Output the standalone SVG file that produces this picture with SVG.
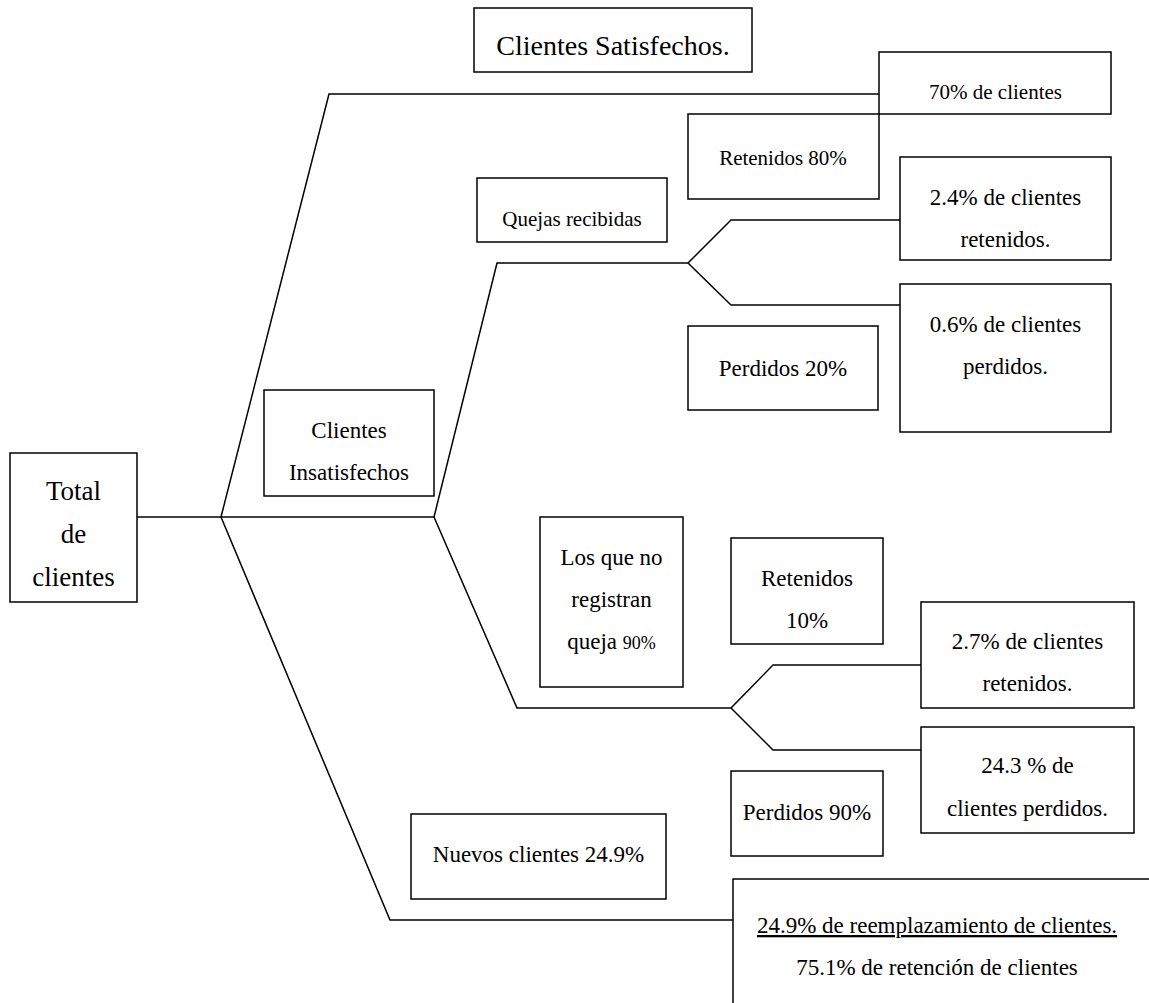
<svg xmlns="http://www.w3.org/2000/svg" width="1149" height="1003" viewBox="0 0 1149 1003">
  <style>
    .box { fill: #ffffff; stroke: #000000; stroke-width: 1.5; }
    .open { fill: none; stroke: #000000; stroke-width: 1.5; }
    .link { fill: none; stroke: #000000; stroke-width: 1.5; stroke-linejoin: miter; }
    text { font-family: "Liberation Serif", "Times New Roman", serif; fill: #000000; text-anchor: middle; }
    .s18 { font-size: 18px; }
    .s21 { font-size: 21px; }
    .s23 { font-size: 23px; }
    .s27 { font-size: 27px; }
    .s28 { font-size: 28px; }
  </style>
  <rect width="1149" height="1003" fill="#ffffff"/>

  <!-- connectors -->
  <g id="connectors">
    <path class="link" d="M137,517 H434"/>
    <path class="link" d="M221,517 L329,94 H879"/>
    <path class="link" d="M221,517 L390,920 H733"/>
    <path class="link" d="M434,517 L497,263 H688 L731,220 H900"/>
    <path class="link" d="M688,263 L731,305 H900"/>
    <path class="link" d="M434,517 L517,708 H731 L773,665 H921"/>
    <path class="link" d="M731,708 L773,750 H921"/>
  </g>

  <g id="total">
    <rect class="box" x="10" y="453" width="127" height="149"/>
    <text class="s27" x="73.5" y="500">Total</text>
    <text class="s27" x="73.5" y="543">de</text>
    <text class="s27" x="73.5" y="586">clientes</text>
  </g>

  <g id="satisfechos">
    <rect class="box" x="474" y="8" width="278" height="64"/>
    <text class="s28" x="613" y="55">Clientes Satisfechos.</text>
  </g>

  <g id="setenta">
    <rect class="box" x="879" y="52" width="232" height="62"/>
    <text class="s21" x="995.5" y="99">70% de clientes</text>
  </g>

  <g id="retenidos80">
    <rect class="box" x="688" y="114" width="191" height="85"/>
    <text class="s21" x="783" y="165">Retenidos 80%</text>
  </g>

  <g id="quejas">
    <rect class="box" x="477" y="178" width="190" height="64"/>
    <text class="s21" x="572" y="226">Quejas recibidas</text>
  </g>

  <g id="ret24">
    <rect class="box" x="900" y="157" width="211" height="103"/>
    <text class="s23" x="1005.5" y="205">2.4% de clientes</text>
    <text class="s23" x="1005.5" y="247">retenidos.</text>
  </g>

  <g id="per06">
    <rect class="box" x="900" y="284" width="211" height="148"/>
    <text class="s23" x="1005.5" y="332">0.6% de clientes</text>
    <text class="s23" x="1005.5" y="374">perdidos.</text>
  </g>

  <g id="perdidos20">
    <rect class="box" x="688" y="326" width="190" height="84"/>
    <text class="s23" x="783" y="376">Perdidos 20%</text>
  </g>

  <g id="insatisfechos">
    <rect class="box" x="264" y="390" width="170" height="106"/>
    <text class="s23" x="349" y="438">Clientes</text>
    <text class="s23" x="349" y="480">Insatisfechos</text>
  </g>

  <g id="noqueja">
    <rect class="box" x="540" y="517" width="143" height="170"/>
    <text class="s23" x="611.5" y="565">Los que no</text>
    <text class="s23" x="611.5" y="607">registran</text>
    <text class="s23" x="611.5" y="649">queja <tspan class="s18">90%</tspan></text>
  </g>

  <g id="retenidos10">
    <rect class="box" x="731" y="538" width="152" height="106"/>
    <text class="s23" x="807" y="586">Retenidos</text>
    <text class="s23" x="807" y="628">10%</text>
  </g>

  <g id="ret27">
    <rect class="box" x="921" y="602" width="213" height="106"/>
    <text class="s23" x="1027.5" y="649">2.7% de clientes</text>
    <text class="s23" x="1027.5" y="691">retenidos.</text>
  </g>

  <g id="per243">
    <rect class="box" x="921" y="727" width="213" height="106"/>
    <text class="s23" x="1027.5" y="773">24.3 % de</text>
    <text class="s23" x="1027.5" y="816">clientes perdidos.</text>
  </g>

  <g id="perdidos90">
    <rect class="box" x="731" y="771" width="152" height="85"/>
    <text class="s23" x="807" y="820">Perdidos 90%</text>
  </g>

  <g id="nuevos">
    <rect class="box" x="411" y="814" width="255" height="85"/>
    <text class="s23" x="538.5" y="862">Nuevos clientes 24.9%</text>
  </g>

  <g id="resumen">
    <path class="open" d="M733,1003 V879 H1149"/>
    <text class="s23" x="937" y="933" text-decoration="underline">24.9% de reemplazamiento de clientes.</text>
    <text class="s23" x="937" y="975">75.1% de retención de clientes</text>
  </g>
</svg>
